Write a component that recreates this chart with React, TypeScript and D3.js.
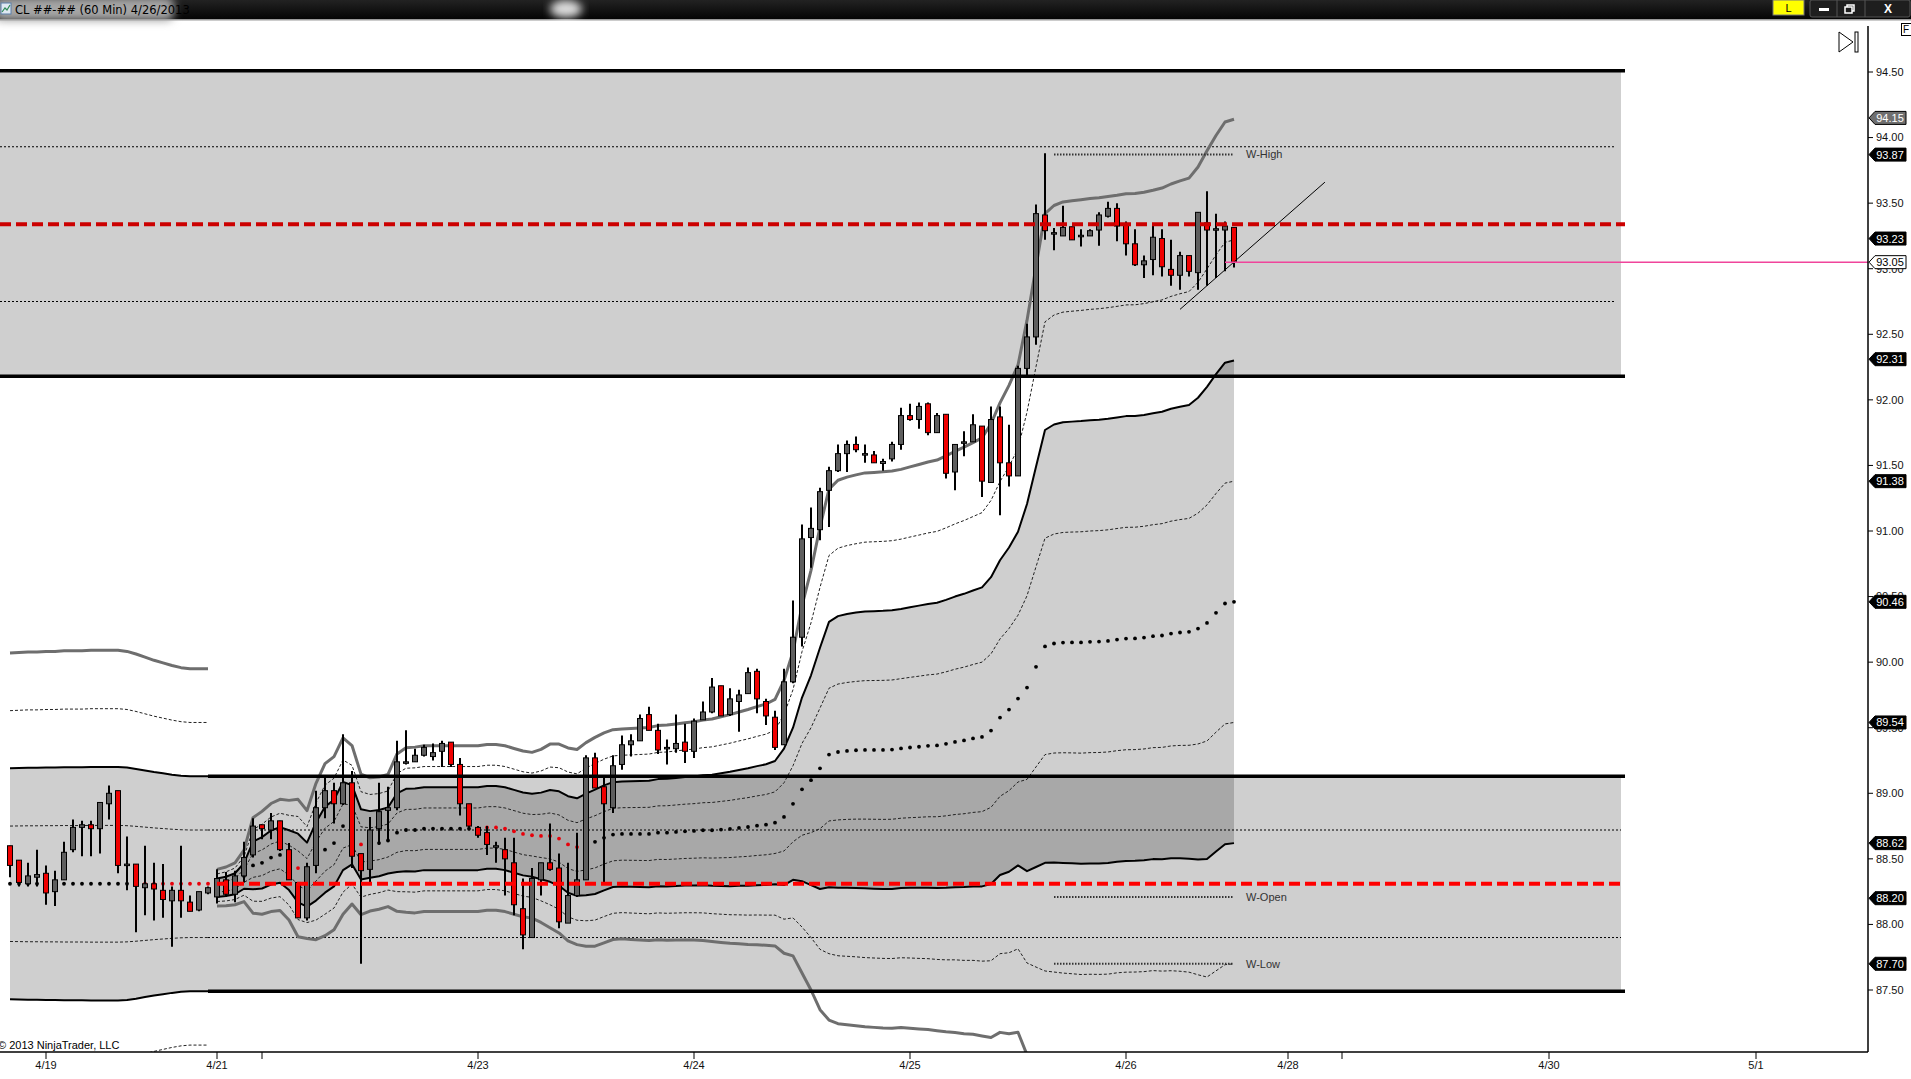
import React from "react";
import * as d3 from "d3";

// ---- 60 min bars, index 0 = first bar on screen ----
const opens = [
  88.60, 88.49, 88.31, 88.36, 88.39, 88.25, 88.34, 88.57, 88.74, 88.76,
  88.73, 88.92, 89.02, 88.45, 88.46, 88.28, 88.31, 88.26, 88.18, 88.26,
  88.17, 88.11, 88.24, 88.21, 88.34, 88.23, 88.37, 88.53, 88.76, 88.72,
  88.79, 88.57, 88.32, 88.05, 88.45, 88.89, 89.02, 88.92, 89.08, 88.54,
  88.42, 88.73, 88.87, 88.89, 89.23, 89.24, 89.29, 89.28, 89.32, 89.39,
  89.22, 88.92, 88.74, 88.70, 88.59, 88.57, 88.47, 88.12, 87.90, 88.34,
  88.47, 88.43, 88.01, 88.22, 88.34, 89.27, 89.05, 88.89, 89.22, 89.37,
  89.40, 89.60, 89.48, 89.34, 89.34, 89.39, 89.32, 89.56, 89.62, 89.82,
  89.60, 89.70, 89.76, 89.93, 89.70, 89.58, 89.37, 89.85, 90.19, 90.95,
  91.01, 91.31, 91.46, 91.59, 91.66, 91.58, 91.58, 91.515, 91.55, 91.66,
  91.88, 91.85, 91.97, 91.75, 91.89, 91.45, 91.67, 91.68, 91.80, 91.37,
  91.87, 91.52, 91.42, 92.24, 92.48, 93.41, 93.265, 93.25, 93.32, 93.25,
  93.25, 93.295, 93.40, 93.46, 93.345, 93.19, 93.03, 93.07, 93.23, 92.995,
  92.95, 93.10, 92.97, 93.35, 93.30, 93.295, 93.315,
];
const highs = [
  88.60, 88.49, 88.47, 88.57, 88.45, 88.41, 88.63, 88.80, 88.79, 88.79,
  88.93, 89.06, 89.02, 88.67, 88.46, 88.60, 88.47, 88.46, 88.29, 88.60,
  88.22, 88.25, 88.29, 88.42, 88.40, 88.41, 88.63, 88.81, 88.76, 88.85,
  88.79, 88.62, 88.32, 88.47, 89.02, 89.14, 89.08, 89.45, 89.17, 88.54,
  88.82, 89.08, 89.05, 89.40, 89.48, 89.34, 89.37, 89.38, 89.40, 89.39,
  89.27, 88.92, 88.75, 88.75, 88.63, 88.66, 88.66, 88.35, 88.43, 88.47,
  88.77, 88.54, 88.47, 88.70, 89.29, 89.31, 89.14, 89.29, 89.44, 89.45,
  89.60, 89.66, 89.53, 89.41, 89.60, 89.53, 89.57, 89.70, 89.88, 89.82,
  89.80, 89.79, 89.96, 89.95, 89.72, 89.63, 89.95, 90.47, 91.05, 91.18,
  91.33, 91.49, 91.66, 91.69, 91.72, 91.66, 91.61, 91.55, 91.68, 91.94,
  91.97, 91.98, 91.98, 91.90, 91.89, 91.66, 91.76, 91.89, 91.80, 91.95,
  91.95, 91.81, 92.26, 92.58, 93.49, 93.88, 93.31, 93.48, 93.32, 93.30,
  93.30, 93.43, 93.51, 93.50, 93.36, 93.30, 93.10, 93.325, 93.30, 93.22,
  93.13, 93.10, 93.43, 93.59, 93.42, 93.36, 93.315,
];
const lows = [
  88.36, 88.29, 88.29, 88.29, 88.15, 88.14, 88.34, 88.55, 88.52, 88.52,
  88.54, 88.80, 88.39, 88.26, 87.94, 88.07, 88.03, 88.05, 87.83, 88.05,
  88.10, 88.10, 88.23, 88.16, 88.21, 88.17, 88.32, 88.51, 88.65, 88.65,
  88.56, 88.34, 88.05, 88.03, 88.39, 88.81, 88.77, 88.91, 88.43, 87.70,
  88.32, 88.61, 88.64, 88.87, 89.22, 89.24, 89.28, 89.25, 89.20, 89.20,
  88.83, 88.74, 88.66, 88.53, 88.47, 88.22, 88.07, 87.81, 87.90, 88.22,
  88.41, 87.97, 88.01, 88.21, 88.34, 89.04, 88.32, 88.85, 89.18, 89.28,
  89.40, 89.48, 89.30, 89.22, 89.31, 89.23, 89.27, 89.56, 89.61, 89.59,
  89.59, 89.47, 89.76, 89.61, 89.52, 89.33, 89.37, 89.84, 90.12, 90.72,
  90.93, 91.03, 91.45, 91.45, 91.60, 91.52, 91.52, 91.46, 91.53, 91.62,
  91.84, 91.78, 91.73, 91.75, 91.40, 91.31, 91.57, 91.68, 91.26, 91.37,
  91.12, 91.34, 91.42, 92.18, 92.42, 93.22, 93.14, 93.25, 93.22, 93.17,
  93.25, 93.175, 93.39, 93.21, 93.10, 93.02, 92.93, 92.95, 92.94, 92.87,
  92.84, 92.94, 92.84, 92.87, 92.93, 92.98, 93.01,
];
const closes = [
  88.45, 88.32, 88.37, 88.38, 88.24, 88.34, 88.55, 88.74, 88.76, 88.73,
  88.93, 89.00, 88.45, 88.46, 88.29, 88.31, 88.27, 88.19, 88.26, 88.18,
  88.10, 88.25, 88.28, 88.35, 88.23, 88.37, 88.51, 88.75, 88.73, 88.79,
  88.57, 88.34, 88.05, 88.44, 88.89, 89.02, 88.92, 89.08, 88.52, 88.41,
  88.72, 88.86, 88.89, 89.24, 89.24, 89.29, 89.35, 89.31, 89.38, 89.22,
  88.92, 88.75, 88.68, 88.61, 88.60, 88.50, 88.15, 87.92, 88.35, 88.47,
  88.42, 88.02, 88.22, 88.34, 89.27, 89.04, 88.92, 89.21, 89.37, 89.40,
  89.57, 89.48, 89.33, 89.35, 89.38, 89.32, 89.55, 89.62, 89.81, 89.59,
  89.72, 89.75, 89.92, 89.72, 89.59, 89.35, 89.85, 90.19, 90.94, 91.02,
  91.30, 91.46, 91.59, 91.66, 91.62, 91.59, 91.52, 91.53, 91.66, 91.88,
  91.85, 91.95, 91.75, 91.88, 91.44, 91.66, 91.68, 91.81, 91.38, 91.85,
  91.52, 91.42, 92.24, 92.48, 93.42, 93.29, 93.275, 93.315, 93.22, 93.255,
  93.29, 93.41, 93.46, 93.325, 93.19, 93.03, 93.06, 93.24, 93.015, 92.95,
  93.10, 92.98, 93.43, 93.295, 93.305, 93.325, 93.05,
];

// ---- prior week VWAP band (bars 0..22) ----
const priorVwap = [
  88.31, 88.31, 88.31, 88.31, 88.31, 88.31, 88.31, 88.31, 88.31, 88.31,
  88.31, 88.31, 88.31, 88.31, 88.31, 88.31, 88.31, 88.31, 88.31, 88.31,
  88.31, 88.31, 88.31,
];
const priorSd = [
  0.440, 0.441, 0.442, 0.442, 0.443, 0.443, 0.444, 0.444, 0.444, 0.445,
  0.445, 0.445, 0.445, 0.443, 0.438, 0.432, 0.426, 0.421, 0.416, 0.412,
  0.410, 0.410, 0.410,
];

// ---- current week VWAP band (bars 23..136) ----
const weekStart = 23;
const weekVwap = [
  88.28, 88.29, 88.31, 88.37, 88.45, 88.47, 88.51, 88.53, 88.49, 88.43,
  88.38, 88.48, 88.57, 88.62, 88.75, 88.76, 88.61, 88.61, 88.62, 88.64,
  88.70, 88.72, 88.72, 88.73, 88.73, 88.73, 88.73, 88.73, 88.73, 88.73,
  88.74, 88.74, 88.73, 88.71, 88.69, 88.68, 88.675, 88.675, 88.655, 88.61,
  88.59, 88.61, 88.63, 88.66, 88.685, 88.69, 88.69, 88.69, 88.69, 88.70,
  88.70, 88.705, 88.71, 88.713, 88.718, 88.718, 88.723, 88.728, 88.736, 88.743,
  88.753, 88.761, 88.776, 88.82, 88.92, 89.03, 89.10, 89.19, 89.295, 89.315,
  89.323, 89.328, 89.331, 89.331, 89.331, 89.333, 89.342, 89.349, 89.355, 89.362,
  89.365, 89.377, 89.392, 89.403, 89.418, 89.43, 89.478, 89.577, 89.638, 89.722,
  89.806, 89.964, 90.12, 90.142, 90.149, 90.15, 90.15, 90.155, 90.157, 90.162,
  90.172, 90.18, 90.181, 90.187, 90.198, 90.203, 90.218, 90.226, 90.231, 90.256,
  90.299, 90.376, 90.447, 90.46,
];
const weekSd = [
  0.035, 0.037, 0.040, 0.049, 0.091, 0.098, 0.103, 0.106, 0.114, 0.131,
  0.122, 0.149, 0.164, 0.165, 0.168, 0.151, 0.134, 0.127, 0.126, 0.126,
  0.150, 0.157, 0.158, 0.158, 0.158, 0.158, 0.158, 0.158, 0.158, 0.158,
  0.158, 0.158, 0.158, 0.158, 0.158, 0.158, 0.165, 0.175, 0.180, 0.184,
  0.186, 0.194, 0.199, 0.200, 0.200, 0.200, 0.201, 0.202, 0.203, 0.204,
  0.205, 0.206, 0.207, 0.208, 0.210, 0.212, 0.215, 0.218, 0.221, 0.224,
  0.227, 0.230, 0.235, 0.260, 0.290, 0.350, 0.400, 0.460, 0.506, 0.518,
  0.522, 0.525, 0.528, 0.529, 0.530, 0.531, 0.532, 0.535, 0.538, 0.541,
  0.544, 0.549, 0.554, 0.559, 0.564, 0.570, 0.585, 0.600, 0.618, 0.636,
  0.700, 0.763, 0.825, 0.835, 0.840, 0.842, 0.844, 0.845, 0.846, 0.847,
  0.847, 0.848, 0.848, 0.849, 0.850, 0.853, 0.857, 0.861, 0.865, 0.880,
  0.900, 0.910, 0.918, 0.920,
];
// bars whose VWAP dot is painted red
const redDots = [14, 15, 16, 17, 18, 19, 20, 21, 22, 31, 32, 33, 39, 53, 54, 55, 56, 57, 58, 59, 60, 61, 62, 63];

// ---- other levels ----
const upperLevels = [94.51, 93.93, 93.34, 92.75, 92.18];
const weekLevelNames = ["W-High", "W-Open", "W-Low"];
const weekLevelValues = [93.87, 88.21, 87.70];
const trendBars = [130, 146.1];
const trendPrices = [92.69, 93.66];

const dateTickBars = [4, 23, 28, 52, 76, 100, 124, 142, 148, 171, 194];
const dateTickLabels = ["4/19", "4/21", "", "4/23", "4/24", "4/25", "4/26", "4/28", "", "4/30", "5/1"];
const priceTicks = [94.5, 94, 93.5, 93, 92.5, 92, 91.5, 91, 90.5, 90, 89.5, 89, 88.5, 88, 87.5];
const markerValues = [94.15, 93.87, 93.23, 92.31, 91.38, 90.46, 89.54, 88.62, 88.20, 87.70];
const markerFills = ["#6f6f6f", "#000", "#000", "#000", "#000", "#000", "#000", "#000", "#000", "#000"];

const FONT = "'Liberation Sans', Arial, sans-serif";

export default function App() {
  const x = d3.scaleLinear().domain([0, 206]).range([10, 1864]);
  const y = d3.scaleLinear().domain([87.5, 94.5]).range([990, 72]);
  const plotRight = 1868;
  const plotTop = 20;
  const plotBottom = 1052;
  const boxEnd = x(179);
  const priorEnd = priorVwap.length - 1;
  const lastBar = closes.length - 1;

  const line = d3.line<[number, number]>().x((d) => x(d[0])).y((d) => y(d[1]));

  const bands = [
    { start: 0, vwap: priorVwap, sd: priorSd },
    { start: weekStart, vwap: weekVwap, sd: weekSd },
  ];
  const bandPath = (b: any, k: number) =>
    line(b.vwap.map((v: number, j: number) => [b.start + j, v + k * b.sd[j]] as [number, number])) as string;
  const bandArea = (b: any) =>
    d3
      .area<number>()
      .x((_, j) => x(b.start + j))
      .y0((v, j) => y(v - 2 * b.sd[j]))
      .y1((v, j) => y(v + 2 * b.sd[j]))(b.vwap) as string;

  const bandStyle = (k: number) => {
    const a = Math.abs(k);
    if (a === 4) return { stroke: "#6e6e6e", strokeWidth: 3, dash: undefined };
    if (a === 2) return { stroke: "#000", strokeWidth: 2, dash: undefined };
    return { stroke: "#222", strokeWidth: 1, dash: "3,2" };
  };

  // prior week final levels, projected across the current week
  const pv = priorVwap[priorEnd];
  const ps = priorSd[priorEnd];
  const lowerBox = [pv + 2 * ps, pv + ps, pv, pv - ps, pv - 2 * ps];

  const grayFill = "rgba(0,0,0,0.19)";

  return (
    <svg
      width={1911}
      height={1079}
      style={{ position: "absolute", left: 0, top: 0, background: "#fff" }}
    >
      <defs>
        <clipPath id="plot">
          <rect x={0} y={plotTop} width={plotRight} height={plotBottom - plotTop} />
        </clipPath>
        <filter id="soft" x="-20%" y="-50%" width="140%" height="200%">
          <feGaussianBlur stdDeviation="4" />
        </filter>
        <linearGradient id="bar" x1="0" y1="0" x2="0" y2="1">
          <stop offset="0" stopColor="#222" />
          <stop offset="1" stopColor="#050505" />
        </linearGradient>
      </defs>
      <rect x={0} y={0} width={1911} height={1079} fill="#fff" />

      <g clipPath="url(#plot)">
        {/* level boxes */}
        <rect x={0} y={y(upperLevels[0])} width={boxEnd} height={y(upperLevels[4]) - y(upperLevels[0])} fill={grayFill} />
        <rect
          x={x(priorEnd)}
          y={y(lowerBox[0])}
          width={boxEnd - x(priorEnd)}
          height={y(lowerBox[4]) - y(lowerBox[0])}
          fill={grayFill}
        />
        {/* VWAP band fills */}
        {bands.map((b, i) => (
          <path key={i} d={bandArea(b)} fill={grayFill} />
        ))}
        {/* dotted box levels */}
        {[upperLevels[1], upperLevels[3]].map((v) => (
          <line key={v} x1={0} x2={boxEnd - 5} y1={y(v)} y2={y(v)} stroke="#000" strokeWidth={1} strokeDasharray="2,2" />
        ))}
        {[lowerBox[1], lowerBox[3]].map((v) => (
          <line key={v} x1={x(priorEnd)} x2={boxEnd} y1={y(v)} y2={y(v)} stroke="#000" strokeWidth={1} strokeDasharray="2,2" />
        ))}
        {/* VWAP band lines */}
        {bands.map((b, i) =>
          [4, 3, 2, 1, -1, -2, -3, -4].map((k) => {
            const s = bandStyle(k);
            return (
              <path
                key={i + "_" + k}
                d={bandPath(b, k)}
                fill="none"
                stroke={s.stroke}
                strokeWidth={s.strokeWidth}
                strokeDasharray={s.dash}
                strokeLinejoin="round"
              />
            );
          })
        )}
        {/* VWAP dots */}
        {bands.map((b) =>
          b.vwap.map((v: number, j: number) => {
            const bar = b.start + j;
            return (
              <circle
                key={"d" + bar}
                cx={x(bar)}
                cy={y(v)}
                r={1.9}
                fill={redDots.includes(bar) ? "#e8000a" : "#000"}
              />
            );
          })
        )}
        {/* candles */}
        {closes.map((c, i) => {
          const o = opens[i];
          const up = c >= o;
          const top = y(Math.max(o, c));
          const h = Math.max(1.5, y(Math.min(o, c)) - top);
          return (
            <g key={"c" + i}>
              <line x1={x(i)} x2={x(i)} y1={y(highs[i])} y2={y(lows[i])} stroke="#000" strokeWidth={2} />
              <rect x={x(i) - 2.5} y={top} width={5} height={h} fill={up ? "#5e5e5e" : "#f00000"} stroke="#000" strokeWidth={1} />
            </g>
          );
        })}
        {/* box borders */}
        {[upperLevels[0], upperLevels[4]].map((v) => (
          <line key={"u" + v} x1={0} x2={boxEnd + 4} y1={y(v)} y2={y(v)} stroke="#000" strokeWidth={3.5} />
        ))}
        {[lowerBox[0], lowerBox[4]].map((v) => (
          <line key={"l" + v} x1={x(priorEnd)} x2={boxEnd + 4} y1={y(v)} y2={y(v)} stroke="#000" strokeWidth={3.5} />
        ))}
        <line x1={0} x2={boxEnd + 4} y1={y(upperLevels[2])} y2={y(upperLevels[2])} stroke="#cc0000" strokeWidth={4} strokeDasharray="11,5" />
        <line x1={x(weekStart)} x2={boxEnd + 4} y1={y(lowerBox[2])} y2={y(lowerBox[2])} stroke="#ff0000" strokeWidth={4} strokeDasharray="11,5" />
        {/* weekly high / open / low */}
        {weekLevelValues.map((v, i) => (
          <g key={weekLevelNames[i]}>
            <line x1={x(116)} x2={x(lastBar)} y1={y(v)} y2={y(v)} stroke="#333" strokeWidth={2} strokeDasharray="1.5,1.5" />
            <text x={x(lastBar) + 12} y={y(v)} dy="0.35em" fontFamily={FONT} fontSize={11} fill="#333">
              {weekLevelNames[i]}
            </text>
          </g>
        ))}
        {/* trend line */}
        <line
          x1={x(trendBars[0])}
          y1={y(trendPrices[0])}
          x2={x(trendBars[1])}
          y2={y(trendPrices[1])}
          stroke="#000"
          strokeWidth={1}
        />
        {/* last price */}
        <line x1={x(lastBar - 1)} x2={plotRight} y1={y(closes[lastBar])} y2={y(closes[lastBar])} stroke="#f0449b" strokeWidth={1.5} />
        <text x={-2} y={1049} fontFamily={FONT} fontSize={11} fill="#000">
          © 2013 NinjaTrader, LLC
        </text>
      </g>

      {/* axes */}
      <line x1={plotRight} x2={plotRight} y1={26} y2={plotBottom} stroke="#000" strokeWidth={1.5} />
      <line x1={0} x2={plotRight} y1={plotBottom} y2={plotBottom} stroke="#000" strokeWidth={1.5} />
      {priceTicks.map((p) => (
        <g key={"p" + p}>
          <line x1={plotRight} x2={plotRight + 5} y1={y(p)} y2={y(p)} stroke="#000" />
          <text x={plotRight + 8} y={y(p)} dy="0.35em" fontFamily={FONT} fontSize={11} fill="#111">
            {d3.format(".2f")(p)}
          </text>
        </g>
      ))}
      {dateTickBars.map((b, i) => (
        <g key={"t" + b}>
          <line x1={x(b)} x2={x(b)} y1={plotBottom} y2={plotBottom + 7} stroke="#000" />
          <text x={x(b)} y={1069} textAnchor="middle" fontFamily={FONT} fontSize={11} fill="#111">
            {dateTickLabels[i]}
          </text>
        </g>
      ))}
      {/* price markers */}
      {[...markerValues, closes[lastBar]].map((v, i) => {
        const yy = y(v);
        const isLast = i === markerValues.length;
        const fill = isLast ? "#fff" : markerFills[i];
        return (
          <g key={"m" + i}>
            <path
              d={`M${plotRight + 1},${yy} L${plotRight + 7},${yy - 6.5} L${1906},${yy - 6.5} L${1906},${yy + 6.5} L${plotRight + 7},${yy + 6.5} Z`}
              fill={fill}
              stroke="#000"
              strokeWidth={1}
            />
            <text x={1890} y={yy} dy="0.36em" textAnchor="middle" fontFamily={FONT} fontSize={11} fill={isLast ? "#000" : "#fff"}>
              {d3.format(".2f")(v)}
            </text>
          </g>
        );
      })}

      {/* chart window chrome */}
      <path d="M1839,32 L1853,42 L1839,52 Z" fill="none" stroke="#000" strokeWidth={1} />
      <rect x={1855} y={32} width={3} height={20} fill="none" stroke="#000" strokeWidth={1} />
      <rect x={1901.5} y={23.5} width={12} height={12} fill="#fff" stroke="#000" strokeWidth={1} />
      <text x={1903} y={33} fontFamily={FONT} fontSize={10} fill="#000">F</text>

      <rect x={0} y={0} width={1911} height={19} fill="url(#bar)" />
      <rect x={0} y={19} width={1911} height={1.5} fill="#9a9a9a" />
      <rect x={-6} y={-3} width={180} height={24} rx={8} fill="#a5a5a5" filter="url(#soft)" />
      <ellipse cx={566} cy={9} rx={16} ry={9} fill="#fff" opacity={0.85} filter="url(#soft)" />
      <rect x={1} y={3} width={10} height={11} fill="#dfe8f2" stroke="#5a7fa8" strokeWidth={1} />
      <path d="M2,12 L5,8 L7,10 L10,5" fill="none" stroke="#2e8b57" strokeWidth={1.2} />
      <text x={15} y={13.5} fontFamily="'DejaVu Sans', sans-serif" fontSize={11.5} fill="#000">
        CL ##-## (60 Min)  4/26/2013
      </text>
      <rect x={1773} y={0} width={31} height={15} fill="#ffff00" stroke="#777" strokeWidth={1} />
      <text x={1788.5} y={12} textAnchor="middle" fontFamily={FONT} fontSize={11} fill="#000">L</text>
      <rect x={1810} y={0} width={100} height={17} rx={2} fill="#1e1e1e" stroke="#555" strokeWidth={1} />
      <line x1={1837} x2={1837} y1={0} y2={17} stroke="#555" />
      <line x1={1865} x2={1865} y1={0} y2={17} stroke="#555" />
      <rect x={1819} y={8} width={10} height={3} fill="#fff" />
      <rect x={1847} y={5} width={7} height={6} fill="none" stroke="#fff" strokeWidth={1.5} />
      <rect x={1845} y={7} width={7} height={6} fill="#1e1e1e" stroke="#fff" strokeWidth={1.5} />
      <text x={1888} y={13} textAnchor="middle" fontFamily={FONT} fontSize={12} fontWeight="bold" fill="#fff">X</text>
    </svg>
  );
}
